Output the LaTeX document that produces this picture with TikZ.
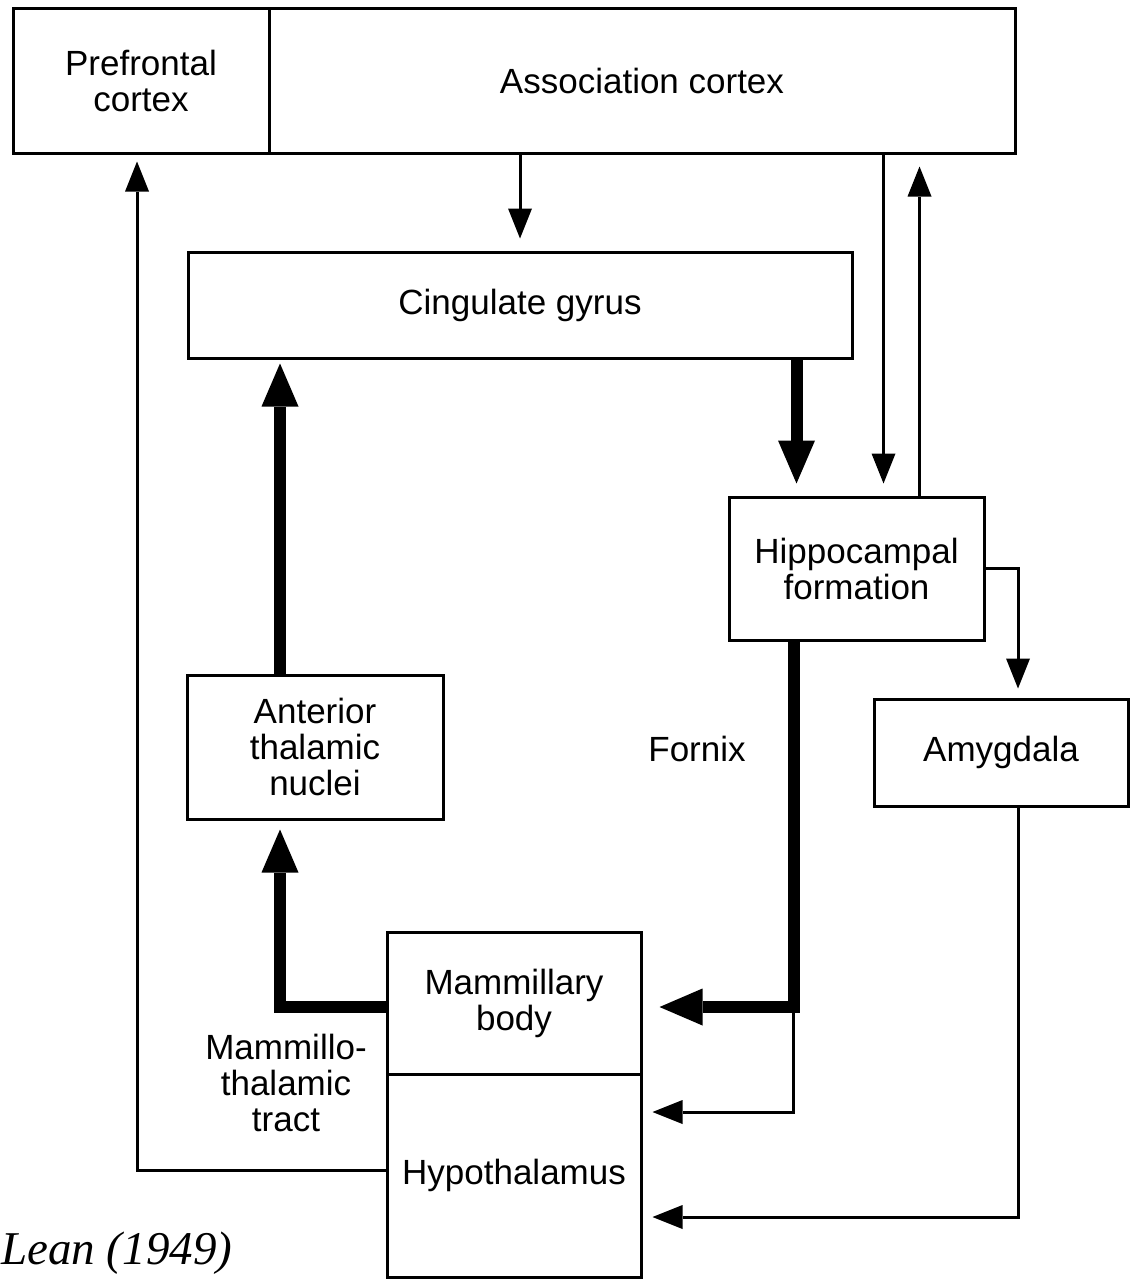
\documentclass[tikz,border=0pt]{standalone}
\usepackage{fontspec}
\usepackage{graphicx}
\setmainfont{Liberation Sans}
\newfontfamily\capfont{Liberation Serif}
\usetikzlibrary{arrows.meta}
\begin{document}
\begin{tikzpicture}[x=1pt,y=-1pt,
  box/.style={draw, line width=3pt, inner sep=0pt, align=center,
    font=\fontsize{35}{36}\selectfont},
  lbl/.style={inner sep=0pt, align=center, font=\fontsize{35}{36}\selectfont},
  thinarrow/.style={line width=3pt, -{Triangle[width=24pt,length=30pt,line width=0pt]}},
  thickarrow/.style={line width=12pt, -{Triangle[width=37pt,length=43pt,line width=0pt]}}]
\useasboundingbox (0,0) rectangle (1133,1282);
% boxes
\node[box, minimum width=256pt, minimum height=145pt] (pref) at (141,80.5) {Prefrontal\\cortex};
\node[box, minimum width=746pt, minimum height=145pt] (assoc) at (642,80.5) {Association cortex};
\node[box, minimum width=664pt, minimum height=106pt] (cing) at (520,305) {Cingulate gyrus};
\node[box, minimum width=255pt, minimum height=143pt] (hip) at (856.5,568.5) {Hippocampal\\formation};
\node[box, minimum width=254pt, minimum height=107pt] (amy) at (1001,752.5) {Amygdala};
\node[box, minimum width=256pt, minimum height=144pt] (ant) at (315,747) {Anterior\\thalamic\\nuclei};
\node[box, minimum width=254pt, minimum height=142pt] (mamm) at (514,1003) {Mammillary\\body};
\node[box, minimum width=254pt, minimum height=203pt] (hypo) at (514,1175.5) {Hypothalamus};
% labels
\node[lbl] (fornix) at (697,749) {Fornix};
\node[lbl] (mtt) at (286,1083) {Mammillo-\\thalamic\\tract};
\node[anchor=base west, inner sep=0pt] (cap) at (1,1264)
  {\capfont\itshape\fontsize{47}{47}\selectfont Lean (1949)};
% coordinates
\coordinate (cgout) at ([xshift=-57pt]cing.south east);
\coordinate (aout) at ([xshift=-133pt]assoc.south east);
\coordinate (hout) at ([xshift=-66pt]hip.north east);
\coordinate (ain) at ([xshift=17pt]amy.north);
\coordinate (fx0) at ([xshift=66pt]hip.south west);
\coordinate (mb) at ([yshift=-4pt]mamm.east);
\coordinate (fx) at (fx0 |- mb);
\coordinate (h1) at ([yshift=63.5pt]hypo.east);
\coordinate (aout2) at ([xshift=17pt]amy.south);
\coordinate (h2) at ([yshift=-41.5pt]hypo.east);
\coordinate (mw) at ([yshift=-4pt]mamm.west);
\coordinate (antin) at ([xshift=-35pt]ant.south);
\coordinate (antout) at ([xshift=-35pt]ant.north);
\coordinate (hw) at ([yshift=5.5pt]hypo.west);
\coordinate (pin) at ([xshift=-4pt]pref.south);
% connectors
\draw[thinarrow, shorten >=12pt] (assoc.south -| cing.north) -- (cing.north);
\draw[thickarrow, shorten >=12pt] (cgout) -- (cgout |- hip.north);
\draw[thinarrow, shorten >=12pt] (aout) -- (aout |- hip.north);
\draw[thinarrow, shorten >=12pt] (hout) -- (hout |- assoc.south);
\draw[thinarrow, shorten >=9pt] (hip.east) -| (ain);
\draw[thickarrow, shorten >=17pt] (fx0) -- (fx) -- (mb);
\draw[thinarrow, shorten >=10pt] (fx) |- (h1);
\draw[thinarrow, shorten >=10pt] (aout2) |- (h2);
\draw[thickarrow, shorten >=9pt] (mw) -| (antin);
\draw[thickarrow, shorten >=4pt] (antout) -- (antout |- cing.south);
\draw[thinarrow, shorten >=7pt] (hw) -| (pin);
\end{tikzpicture}
\end{document}
